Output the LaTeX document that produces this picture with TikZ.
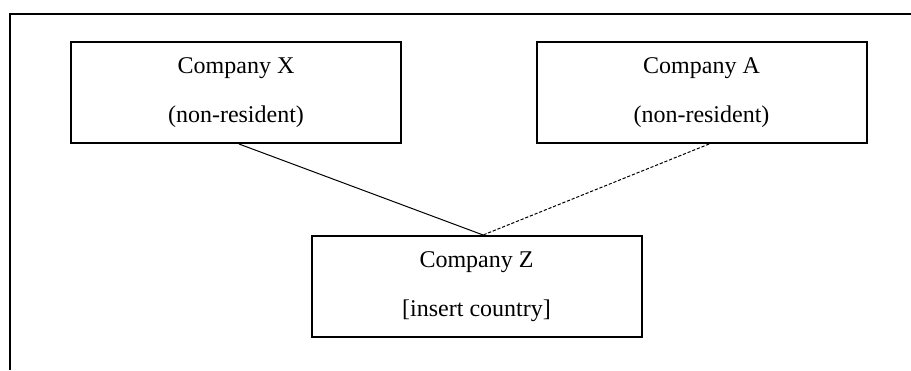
\documentclass[tikz,border=0pt]{standalone}
\usepackage{fontspec}
\setmainfont{Liberation Serif}
\begin{document}
\begin{tikzpicture}[x=0.5pt, y=-0.5pt,
  entity/.style={draw, line width=1pt, rectangle, minimum width=165pt,
    minimum height=50.5pt, inner sep=0pt, align=center,
    font=\fontsize{12}{24.5}\selectfont},
  link/.style={line width=0.5pt},
  weaklink/.style={line width=0.5pt, dash pattern=on 1.6pt off 0.9pt},
  frame/.style={line width=0.85pt}]
\useasboundingbox (0,0) rectangle (911,370);

% partial page frame
\coordinate (f1) at (10,370);
\coordinate (f2) at (10,14);
\coordinate (f3) at (911,14);
\draw[frame] (f1) -- (f2) -- (f3);

% entities
\node[entity] (X) at (236,92.5) {Company X\\(non-resident)};
\node[entity] (A) at (701.5,92.5) {Company A\\(non-resident)};
\node[entity] (Z) at (476.5,286.5) {Company Z\\{}[insert country]};

% ownership links
\coordinate (j) at ([xshift=3.3pt]Z.north);
\draw[link] ([xshift=1.5pt]X.south) -- (j);
\draw[weaklink] ([xshift=3.8pt]A.south) -- (j);
\end{tikzpicture}
\end{document}
